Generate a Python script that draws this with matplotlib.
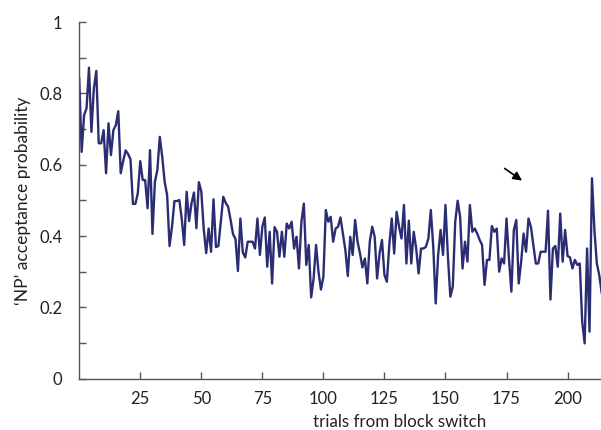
import matplotlib.pyplot as plt
import numpy as np
from matplotlib.ticker import MultipleLocator

# 'NP' acceptance probability per trial after block switch
accept_prob = [
    0.842, 0.636, 0.739, 0.758, 0.872, 0.692, 0.814, 0.863, 0.660, 0.660,
    0.697, 0.576, 0.716, 0.627, 0.697, 0.711, 0.750, 0.576, 0.610, 0.640,
    0.630, 0.615, 0.490, 0.490, 0.520, 0.610, 0.557, 0.557, 0.478, 0.641,
    0.406, 0.552, 0.585, 0.678, 0.622, 0.552, 0.515, 0.372, 0.426, 0.498,
    0.498, 0.501, 0.448, 0.375, 0.524, 0.442, 0.492, 0.522, 0.422, 0.551,
    0.525, 0.420, 0.352, 0.421, 0.356, 0.503, 0.369, 0.372, 0.440, 0.510,
    0.493, 0.482, 0.445, 0.405, 0.392, 0.302, 0.449, 0.354, 0.340, 0.384,
    0.384, 0.384, 0.365, 0.449, 0.347, 0.426, 0.452, 0.314, 0.412, 0.267,
    0.425, 0.412, 0.342, 0.412, 0.342, 0.435, 0.421, 0.440, 0.365, 0.398,
    0.309, 0.440, 0.491, 0.319, 0.375, 0.228, 0.281, 0.375, 0.300, 0.250,
    0.286, 0.473, 0.440, 0.454, 0.384, 0.421, 0.426, 0.452, 0.407, 0.361,
    0.288, 0.398, 0.347, 0.445, 0.384, 0.351, 0.312, 0.337, 0.267, 0.384,
    0.426, 0.398, 0.281, 0.351, 0.389, 0.291, 0.272, 0.375, 0.449, 0.351,
    0.468, 0.426, 0.393, 0.487, 0.323, 0.443, 0.323, 0.412, 0.365, 0.295,
    0.365, 0.365, 0.370, 0.393, 0.473, 0.370, 0.211, 0.347, 0.417, 0.347,
    0.487, 0.342, 0.230, 0.258, 0.440, 0.499, 0.454, 0.309, 0.384, 0.328,
    0.487, 0.412, 0.421, 0.407, 0.389, 0.375, 0.263, 0.333, 0.333, 0.428,
    0.412, 0.421, 0.300, 0.337, 0.323, 0.449, 0.337, 0.244, 0.417, 0.445,
    0.267, 0.328, 0.407, 0.356, 0.449, 0.426, 0.375, 0.323, 0.323, 0.356,
    0.356, 0.356, 0.471, 0.222, 0.365, 0.372, 0.314, 0.463, 0.328, 0.417,
    0.344, 0.340, 0.309, 0.333, 0.319, 0.323, 0.160, 0.099, 0.365, 0.132,
    0.562, 0.417, 0.323, 0.290, 0.240,
]
trials = np.arange(len(accept_prob))

x_ticks = [25, 50, 75, 100, 125, 150, 175, 200]
y_ticks = [0, 0.2, 0.4, 0.6, 0.8, 1]
y_tick_labels = ["0", "0.2", "0.4", "0.6", "0.8", "1"]

# arrow marking the late-block point of interest (tail, head)
arrow_tail = (173.3, 0.594)
arrow_head = (182.3, 0.551)

plt.rcParams["font.family"] = ["Lato", "DejaVu Sans"]

fig = plt.figure(figsize=(6.01, 4.30), dpi=100)
ax = fig.add_axes([0.1318, 0.1193, 0.8682, 0.8295])

ax.plot(trials, accept_prob, color="#2b2d73", lw=1.7)

ax.annotate(
    "", xy=arrow_head, xytext=arrow_tail,
    arrowprops=dict(arrowstyle="-|>", color="black", lw=1.2, mutation_scale=13),
)

ax.set_xlim(0, 213.7)
ax.set_ylim(0, 1)
ax.set_xticks(x_ticks)
ax.set_yticks(y_ticks)
ax.set_yticklabels(y_tick_labels)
ax.yaxis.set_minor_locator(MultipleLocator(0.1))

for side in ("top", "right"):
    ax.spines[side].set_visible(False)
for side in ("left", "bottom"):
    ax.spines[side].set_color("#555555")
    ax.spines[side].set_linewidth(1.0)

ax.tick_params(axis="both", which="both", direction="in", length=5,
               width=1.0, color="#555555", labelsize=12, labelcolor="#222222")
ax.tick_params(axis="y", which="both", pad=12)
ax.tick_params(axis="x", pad=9)

ax.set_xlabel("trials from block switch", fontsize=12.2, color="#222222")
# the original figure was cropped on the right, so the label sits right of centre
ax.xaxis.set_label_coords(0.615, -0.1)
ax.set_ylabel("\u2018NP\u2019 acceptance probability", fontsize=12.5,
              color="#222222", labelpad=6)

fig.savefig("out.png", dpi=100)
